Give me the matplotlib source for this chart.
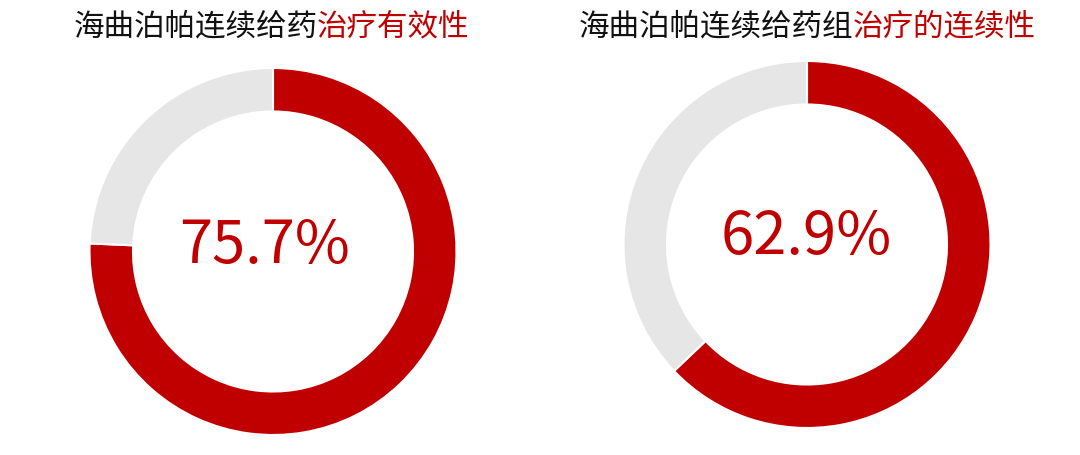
import matplotlib
matplotlib.use('Agg')
from matplotlib import pyplot as plt

plt.rcParams['font.family'] = ['Noto Sans CJK SC', 'DejaVu Sans']

# Data
title_black = ['海曲泊帕连续给药', '海曲泊帕连续给药组']
title_red = ['治疗有效性', '治疗的连续性']
rates = [75.7, 62.9]
rest = [100 - v for v in rates]

RED = '#C00000'
GREY = '#E7E6E6'
W, H = 1080, 456

fig = plt.figure(figsize=(W / 100, H / 100), dpi=100)
renderer = fig.canvas.get_renderer()

# donut boxes in pixels: (centre x, centre y from top, radius)
boxes = [(273, 252.5, 183.5), (807, 245.5, 183.5)]
# label offsets (px) from donut centre
label_off = [(-8, -6.5), (-1, -8)]
# title centres (px)
title_cx = [271.5, 807.5]

for i in range(2):
    cx, cy, r = boxes[i]
    ax = fig.add_axes([(cx - r) / W, (H - cy - r) / H, 2 * r / W, 2 * r / H])
    ax.pie([rates[i], rest[i]], colors=[RED, GREY], startangle=90,
           counterclock=False, radius=1,
           wedgeprops=dict(width=0.237, edgecolor='white', linewidth=1.5))
    ax.set_xlim(-1, 1)
    ax.set_ylim(-1, 1)
    ax.set_aspect('equal')
    ax.axis('off')
    dx, dy = label_off[i]
    ax.text(dx / r, -dy / r, '{}%'.format(rates[i]), color=RED, fontsize=43,
            ha='center', va='center')

    # two-colour title: black part then red part, centred as a whole
    tb = fig.text(0, 1 - 27 / H, title_black[i], color='#111111',
                  fontsize=22, ha='left', va='center')
    tr = fig.text(0, 1 - 27 / H, title_red[i], color=RED,
                  fontsize=22, ha='left', va='center')
    wb = tb.get_window_extent(renderer).width
    wr = tr.get_window_extent(renderer).width
    x0 = title_cx[i] - (wb + wr) / 2
    tb.set_x(x0 / W)
    tr.set_x((x0 + wb) / W)

fig.savefig('out.png', dpi=100, facecolor='white')
